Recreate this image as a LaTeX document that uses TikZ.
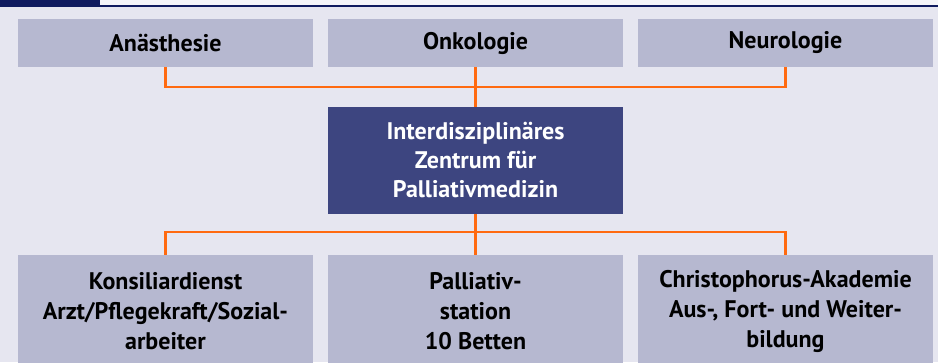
\documentclass[tikz,border=0pt]{standalone}
\usepackage{fontspec}
\setmainfont{PT Sans}
\definecolor{marine}{HTML}{101B5F}
\definecolor{fond}{HTML}{E6E6F0}
\definecolor{feld}{HTML}{B6B8D0}
\definecolor{kern}{HTML}{3D4580}
\definecolor{linie}{HTML}{FF6A10}
\tikzset{
  kasten/.style={fill=feld, inner sep=0pt, minimum width=221.25pt, align=center,
    font=\bfseries\fontsize{18}{22.5}\selectfont, text=black},
  zentrum/.style={kasten, fill=kern, text=white, minimum height=80.25pt,
    font=\bfseries\fontsize{18}{21.75}\selectfont},
  verbindung/.style={draw=linie, line width=2.2pt, line join=miter},
}
\begin{document}
\begin{tikzpicture}[x=0.75pt,y=-0.75pt]
  \useasboundingbox (0,0) rectangle (938,362);
  \fill[fond] (0,0) rectangle (938,362);
  \fill[white!60!fond] (100,0) rectangle (938,4.5);

  % Kopfleiste, oben angeschnitten.
  \fill[marine] (0,0) rectangle (100,5);
  \fill[marine] (0,4.5) rectangle (938,6.8);

  % Obere Reihe: beteiligte Fachabteilungen.
  \node[kasten, minimum height=36pt] (anae) at (165.5,43) {Anästhesie};
  \node[kasten, minimum height=36pt] (onko) at (475.5,43) {Onkologie};
  \node[kasten, minimum height=36pt] (neuro) at (785.5,43) {Neurologie};

  % Zentrum in der Mitte.
  \node[zentrum] (izp) at (475.5,160.5) {Interdisziplinäres\\Zentrum für\\Palliativmedizin};

  % Untere Reihe, unten angeschnitten.
  \node[kasten, minimum height=84pt] (konsil) at (165.5,311) {Konsiliardienst\\Arzt/Pflegekraft/Sozial-\\arbeiter};
  \node[kasten, minimum height=84pt] (station) at (475.5,311) {Palliativ-\\station\\10 Betten};
  \node[kasten, minimum height=84pt] (akademie) at (785.5,311) {Christophorus-Akademie\\Aus-, Fort- und Weiter-\\bildung};

  % Verbindungslinien.
  \coordinate (knoten oben) at (475.5,87);
  \coordinate (knoten unten) at (475.5,232);
  \draw[verbindung] (anae.south) |- (knoten oben) -| (neuro.south);
  \draw[verbindung] (onko.south) -- (izp.north);
  \draw[verbindung] (konsil.north) |- (knoten unten) -| (akademie.north);
  \draw[verbindung] (izp.south) -- (station.north);
\end{tikzpicture}
\end{document}
